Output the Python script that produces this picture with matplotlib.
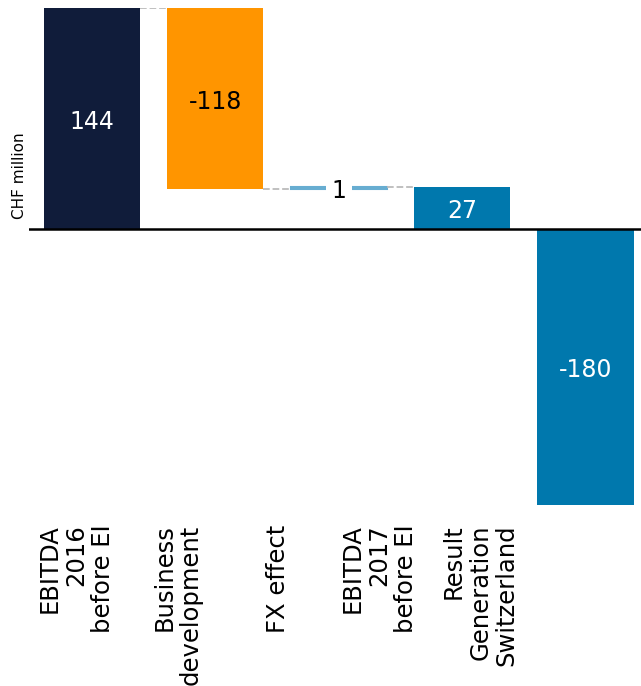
import numpy as np
import matplotlib.pyplot as plt

categories = ["EBITDA\n2016\nbefore EI", "Business\ndevelopment", "FX effect",
              "EBITDA\n2017\nbefore EI", "Result\nGeneration\nSwitzerland"]
bottoms = [0, 26, 26, 0, 0]
heights = [144, 118, 1, 27, -180]
value_labels = ["144", "-118", "1", "27", "-180"]

colors = ["#101c3a", "#ff9500", "#67add1", "#0078ad", "#0078ad"]
text_colors = ["white", "black", "black", "white", "white"]

fig = plt.figure(figsize=(6.41, 6.86), dpi=100)
ax = fig.add_axes([29 / 641, 1 - 505 / 686, 1 - 29 / 641, 497 / 686])

x = np.arange(len(categories))
width = 0.78

for i in range(len(categories)):
    lw = 1.5 if i == 2 else 0
    ax.bar(x[i], heights[i], width=width, bottom=bottoms[i], color=colors[i],
           edgecolor=colors[i], linewidth=lw)
    yc = bottoms[i] + heights[i] / 2
    bbox = None
    if i == 2:
        bbox = dict(facecolor="white", edgecolor="none", pad=4)
    ax.text(x[i], yc - 2, value_labels[i], ha="center", va="center", fontsize=17,
            color=text_colors[i], bbox=bbox)

# connectors between bars
levels = [144, 26, 27]
for i in range(3):
    ax.plot([x[i] + width / 2, x[i + 1] - width / 2], [levels[i], levels[i]],
            color="#bbbbbb", linestyle="--", linewidth=1.3)

ax.axhline(0, color="black", linewidth=1.8)

ax.set_xlim(-0.51, 4.45)
ax.set_ylim(-180, 144)
for s in ax.spines.values():
    s.set_visible(False)
ax.set_yticks([])

# category labels sit on a tighter spacing than the bars
label_pos = -0.125 + 0.818 * x
ax.set_xticks(label_pos)
ax.set_xticklabels(categories, rotation=90, fontsize=17.5, va="top", ha="center",
                   multialignment="right", linespacing=1.13)
ax.tick_params(axis="x", length=0, pad=14)

fig.text(20 / 641, 1 - 176 / 686, "CHF million", rotation=90, fontsize=11,
         ha="center", va="center")

fig.savefig("out.png", dpi=100)
